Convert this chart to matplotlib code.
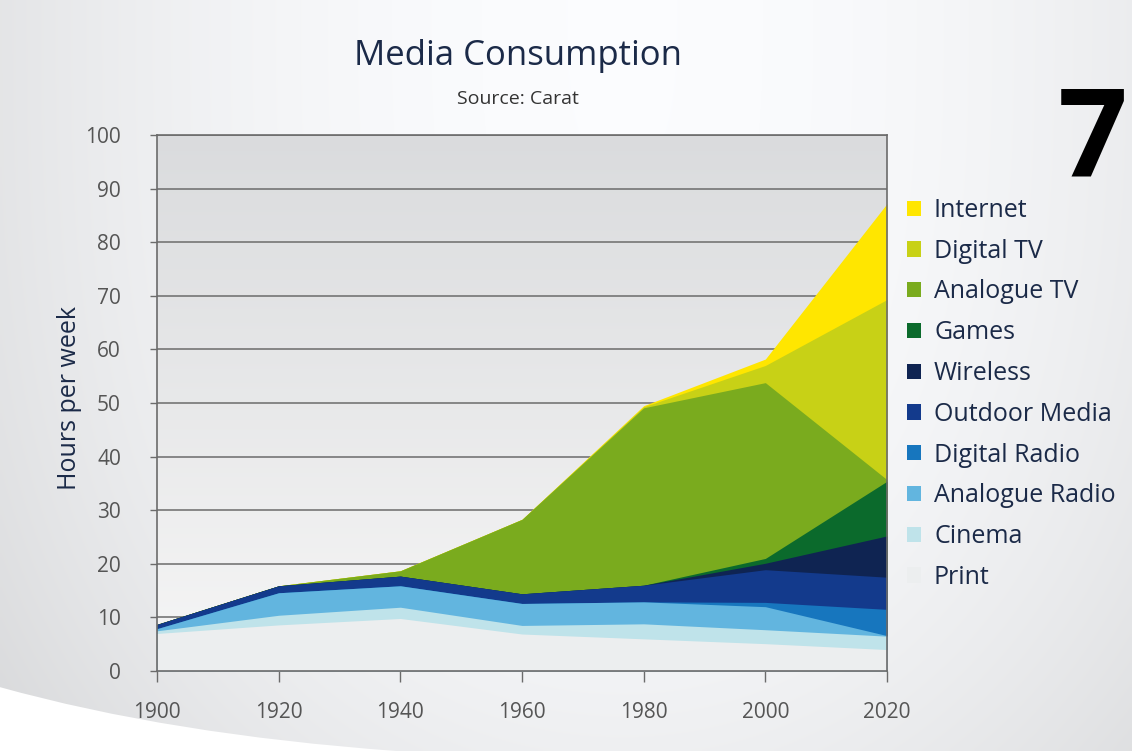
import numpy as np
import matplotlib
matplotlib.use('Agg')
import matplotlib.pyplot as plt
from matplotlib.patches import Patch, PathPatch
from matplotlib.path import Path

plt.rcParams['font.family'] = ['Open Sans', 'DejaVu Sans']

years = [1900, 1920, 1940, 1960, 1980, 2000, 2020]

# hours per week for each medium, bottom layer first
print_media    = [7.0, 8.6, 9.8, 6.9, 6.0, 5.1, 4.0]
cinema         = [0.5, 1.8, 2.1, 1.6, 2.8, 2.6, 2.5]
analogue_radio = [0.4, 4.2, 4.0, 4.1, 4.1, 4.3, 0.1]
digital_radio  = [0.0, 0.0, 0.0, 0.0, 0.0, 0.8, 4.9]
outdoor_media  = [0.8, 1.3, 1.8, 1.8, 3.1, 6.1, 6.0]
wireless       = [0.0, 0.0, 0.0, 0.0, 0.0, 1.2, 7.7]
games          = [0.0, 0.0, 0.0, 0.0, 0.0, 0.9, 10.2]
analogue_tv    = [0.0, 0.0, 1.0, 13.9, 33.1, 32.8, 0.3]
digital_tv     = [0.0, 0.0, 0.0, 0.0, 0.2, 3.2, 33.6]
internet       = [0.0, 0.0, 0.0, 0.0, 0.2, 1.2, 17.9]

series = [print_media, cinema, analogue_radio, digital_radio, outdoor_media,
          wireless, games, analogue_tv, digital_tv, internet]
labels = ['Print', 'Cinema', 'Analogue Radio', 'Digital Radio', 'Outdoor Media',
          'Wireless', 'Games', 'Analogue TV', 'Digital TV', 'Internet']
colors = ['#eceeef', '#bfe3ea', '#62b5df', '#1776be', '#133a8c',
          '#0f2452', '#0b6a2c', '#7aab1e', '#c8d116', '#ffe600']

navy = '#1b2a48'
grey = '#6b6b6b'

fig = plt.figure(figsize=(11.32, 7.51), dpi=100)

# page background: soft grey vignette plus the white swoosh bottom left
bg = fig.add_axes([0, 0, 1, 1], zorder=-10)
gx = np.linspace(0, 1, 300)[None, :]
gy = np.linspace(0, 1, 200)[:, None]
v = 0.985 - 0.09 * (np.abs(gx - 0.55) / 0.55) ** 2 - 0.05 * gy ** 3
rgb = np.clip(np.dstack([v, v * 1.004, v * 1.012]), 0, 1)
bg.imshow(rgb, extent=[0, 1, 0, 1], aspect='auto', interpolation='bilinear')
swoosh = Path([(0, 0.085), (0.15, 0.022), (0.35, 0), (0, 0), (0, 0.085)],
              [Path.MOVETO, Path.CURVE3, Path.CURVE3, Path.LINETO, Path.CLOSEPOLY])
bg.add_patch(PathPatch(swoosh, facecolor='white', edgecolor='none'))
bg.set_xlim(0, 1)
bg.set_ylim(0, 1)
bg.axis('off')

ax = fig.add_axes([157 / 1132, 1 - 671 / 751, 730 / 1132, 536 / 751])
ax.set_xlim(1900, 2020)
ax.set_ylim(0, 100)

# plot area gradient, darker at the top
t = np.linspace(0, 1, 100)[:, None]
top_c = np.array([0.855, 0.86, 0.868])
bot_c = np.array([0.965, 0.965, 0.965])
pg = (t * top_c + (1 - t) * bot_c)[::-1][:, None, :]
ax.imshow(pg, extent=[1900, 2020, 0, 100], aspect='auto', zorder=0,
          interpolation='bilinear')

# stacked areas, painted from the top layer down so no seams show
cum = np.cumsum(np.array(series), axis=0)
for i in reversed(range(len(series))):
    ax.fill_between(years, 0, cum[i], color=colors[i], lw=0, zorder=1)

ax.set_yticks(range(0, 101, 10))
ax.set_xticks(years)
ax.yaxis.grid(True, color=grey, lw=1.1)
ax.set_axisbelow(True)
for s in ax.spines.values():
    s.set_color(grey)
    s.set_linewidth(1.2)
ax.tick_params(axis='y', direction='out', length=5, width=1, color=grey,
               pad=21, labelsize=15, labelcolor='#555555')
ax.tick_params(axis='x', direction='out', length=8, width=1, color=grey,
               pad=14, labelsize=15, labelcolor='#555555')

fig.text(70 / 1132, 1 - 398 / 751, 'Hours per week', rotation=90,
         ha='center', va='center', fontsize=18, color=navy)
fig.text(518 / 1132, 1 - 65 / 751, 'Media Consumption', ha='center',
         va='baseline', fontsize=25, color=navy)
fig.text(518 / 1132, 1 - 104 / 751, 'Source: Carat', ha='center',
         va='baseline', fontsize=14, color='#333333')
fig.text(0.996, 1 - 176 / 751, '7', ha='right', va='baseline',
         fontsize=88, weight='bold', color='black')

handles = [Patch(facecolor=c, edgecolor='none', label=l)
           for c, l in zip(colors, labels)][::-1]
fig.legend(handles=handles, loc='upper left',
           bbox_to_anchor=(907 / 1132, 1 - 198 / 751), frameon=False,
           fontsize=18, labelcolor=navy, handlelength=0.56, handleheight=0.56,
           handletextpad=0.52, labelspacing=0.63, borderaxespad=0, borderpad=0)

fig.savefig('out.png', dpi=100)
